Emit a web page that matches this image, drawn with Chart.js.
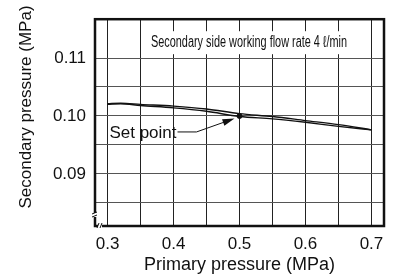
<!DOCTYPE html>
<html>
<head>
<meta charset="utf-8">
<script src="https://cdn.jsdelivr.net/npm/chart.js@4/dist/chart.umd.min.js"></script>
<style>
  html, body { margin: 0; padding: 0; background: #fff; }
  #wrap { width: 393px; height: 278px; position: relative; }
</style>
</head>
<body>
<div id="wrap"><canvas id="chart"></canvas></div>
<script>
// Data
const primary       = [0.30, 0.32, 0.35, 0.40, 0.45, 0.50, 0.55, 0.60, 0.65, 0.70];
const secondaryUp   = [0.1021, 0.1022, 0.1020, 0.1017, 0.1012, 0.1004, 0.0999, 0.0992, 0.0985, 0.0976];
const secondaryDown = [0.1020, 0.1021, 0.1018, 0.1014, 0.1008, 0.0999, 0.0995, 0.0989, 0.0982, 0.0976];
const setPoint      = [{ x: 0.50, y: 0.100 }];

const xGrid   = [0.30, 0.35, 0.40, 0.45, 0.50, 0.55, 0.60, 0.65, 0.70];
const xLabels = ['0.3', '0.4', '0.5', '0.6', '0.7'];
const yGrid   = [0.085, 0.090, 0.095, 0.100, 0.105, 0.110];
const yLabels = ['0.09', '0.10', '0.11'];

const TITLE   = 'Secondary side working flow rate 4 ℓ/min';
const X_TITLE = 'Primary pressure (MPa)';
const Y_TITLE = 'Secondary pressure (MPa)';
const SET_LABEL = 'Set point';

const FONT = '"Liberation Sans", Arial, sans-serif';
const INK = '#111';

Chart.defaults.font.family = FONT;
Chart.defaults.color = INK;

const toXY = arr => arr.map((v, i) => ({ x: primary[i], y: v }));

// Borders, axis break marks, title box, set-point callout, y title
const decorPlugin = {
  id: 'decor',
  afterDraw(chart) {
    const { ctx, chartArea: a, scales } = chart;
    const xs = scales.x, ys = scales.y;
    ctx.save();

    // frame
    ctx.strokeStyle = INK;
    ctx.lineWidth = 2.5;
    ctx.strokeRect(a.left, a.top, a.right - a.left, a.bottom - a.top);

    // axis break marks near the lower-left corner
    ctx.fillStyle = '#fff';
    ctx.fillRect(a.left - 3, a.bottom - 13, 6, 4);
    ctx.fillRect(a.left + 3, a.bottom - 3, 4, 6);
    ctx.lineWidth = 1;
    ctx.beginPath();
    ctx.moveTo(a.left - 3, a.bottom - 12); ctx.lineTo(a.left + 2, a.bottom - 14);
    ctx.moveTo(a.left - 3, a.bottom - 9);  ctx.lineTo(a.left + 2, a.bottom - 11);
    ctx.moveTo(a.left + 2, a.bottom + 2);  ctx.lineTo(a.left + 4, a.bottom - 3);
    ctx.moveTo(a.left + 5, a.bottom + 2);  ctx.lineTo(a.left + 7, a.bottom - 3);
    ctx.stroke();

    // title box (white, hides grid)
    const tx = xs.getPixelForValue(0.4) - 28;
    const tw = xs.getPixelForValue(0.7) - 3 - tx;
    ctx.fillStyle = '#fff';
    ctx.fillRect(tx, a.top + 12, tw, 23);
    ctx.fillStyle = INK;
    ctx.font = '16px ' + FONT;
    ctx.textBaseline = 'middle';
    ctx.textAlign = 'center';
    const w = ctx.measureText(TITLE).width;
    const sx = 196 / w;
    ctx.save();
    ctx.translate(tx + tw / 2 - 8, a.top + 23);
    ctx.scale(sx, 1);
    ctx.fillText(TITLE, 0, 0);
    ctx.restore();

    // set point callout
    const px = xs.getPixelForValue(setPoint[0].x);
    const py = ys.getPixelForValue(setPoint[0].y);
    ctx.font = '17px ' + FONT;
    ctx.textAlign = 'right';
    ctx.fillText(SET_LABEL, px - 63, py + 17);
    ctx.strokeStyle = INK;
    ctx.lineWidth = 1;
    ctx.beginPath();
    ctx.moveTo(px - 62, py + 16);
    ctx.lineTo(px - 43, py + 16);
    ctx.lineTo(px - 12, py + 5);
    ctx.stroke();
    // arrow head
    const ang = Math.atan2(-11, 31);
    const tipX = px - 5, tipY = py + 2.5;
    ctx.beginPath();
    ctx.moveTo(tipX, tipY);
    ctx.lineTo(tipX - 12 * Math.cos(ang) + 3.5 * Math.sin(ang), tipY - 12 * Math.sin(ang) - 3.5 * Math.cos(ang));
    ctx.lineTo(tipX - 12 * Math.cos(ang) - 3.5 * Math.sin(ang), tipY - 12 * Math.sin(ang) + 3.5 * Math.cos(ang));
    ctx.closePath();
    ctx.fill();

    // y axis title
    ctx.save();
    ctx.translate(26, 107);
    ctx.rotate(-Math.PI / 2);
    ctx.textAlign = 'center';
    ctx.font = '17px ' + FONT;
    ctx.fillText(Y_TITLE, 0, 0);
    ctx.restore();

    ctx.restore();
  }
};

new Chart(document.getElementById('chart'), {
  type: 'scatter',
  data: {
    datasets: [
      {
        label: 'Up',
        data: toXY(secondaryUp),
        showLine: true,
        borderColor: INK,
        borderWidth: 1.4,
        pointRadius: 0,
        cubicInterpolationMode: 'monotone',
      },
      {
        label: 'Down',
        data: toXY(secondaryDown),
        showLine: true,
        borderColor: INK,
        borderWidth: 1.4,
        pointRadius: 0,
        cubicInterpolationMode: 'monotone',
      },
      {
        label: 'Set point',
        data: setPoint,
        pointRadius: 2.8,
        pointBackgroundColor: INK,
        pointBorderWidth: 0,
      },
    ],
  },
  options: {
    responsive: true,
    maintainAspectRatio: false,
    animation: false,
    layout: { padding: { top: 15, right: 9, left: 0, bottom: 0 } },
    plugins: {
      legend: { display: false },
      tooltip: { enabled: false },
    },
    scales: {
      x: {
        type: 'linear',
        min: 0.281,
        max: 0.719,
        afterBuildTicks: s => { s.ticks = xGrid.map(v => ({ value: v })); },
        afterFit: s => { s.height = 52; },
        border: { display: false },
        grid: { color: '#222', lineWidth: 1, drawTicks: false },
        ticks: {
          padding: 8,
          font: { size: 17 },
          color: INK,
          autoSkip: false,
          maxRotation: 0,
          callback: v => {
            const t = v.toFixed(1);
            return xLabels.includes(t) && Math.abs(v - parseFloat(t)) < 1e-6 ? t : '';
          },
        },
        title: {
          display: true,
          text: X_TITLE,
          font: { size: 18 },
          color: INK,
          padding: { top: 0, bottom: 2 },
        },
      },
      y: {
        type: 'linear',
        min: 0.081,
        max: 0.1167,
        afterBuildTicks: s => { s.ticks = yGrid.map(v => ({ value: v })); },
        afterFit: s => { s.width = 95; },
        border: { display: false },
        grid: { color: '#555', lineWidth: 1, drawTicks: false },
        ticks: {
          padding: 9,
          font: { size: 17 },
          color: INK,
          autoSkip: false,
          callback: v => {
            const t = v.toFixed(2);
            return yLabels.includes(t) && Math.abs(v - parseFloat(t)) < 1e-6 ? t : '';
          },
        },
      },
    },
  },
  plugins: [decorPlugin],
});
</script>
</body>
</html>
